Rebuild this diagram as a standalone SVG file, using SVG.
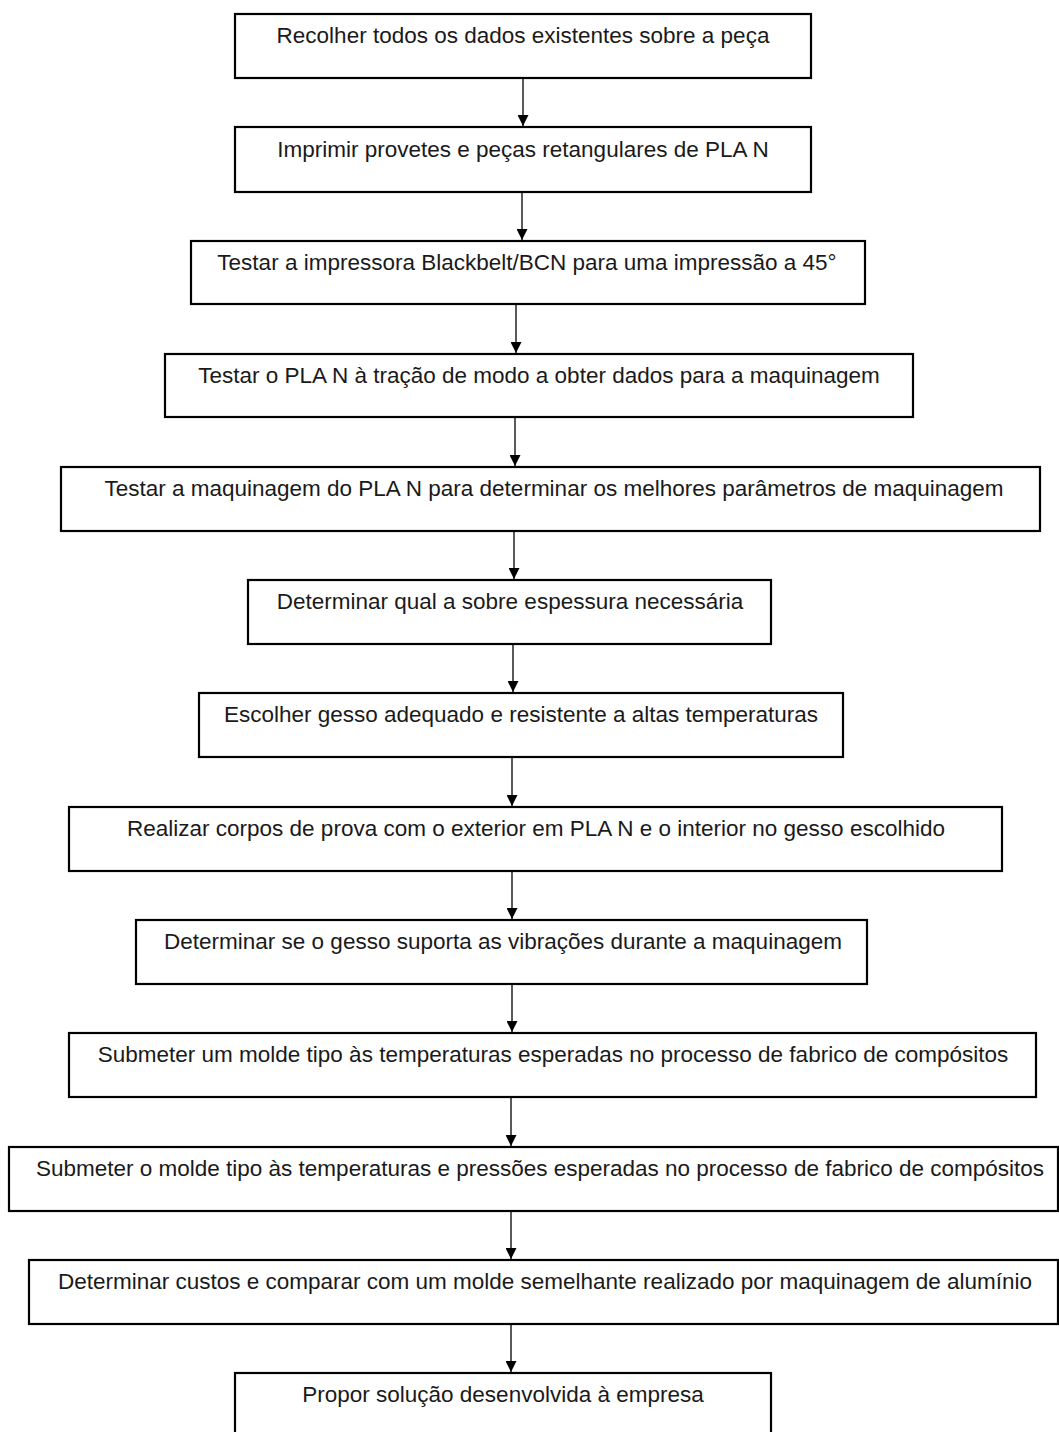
<svg xmlns="http://www.w3.org/2000/svg" width="1059" height="1432" viewBox="0 0 1059 1432">
<style>
.box{fill:#fff;stroke:#000;stroke-width:2.2}
.t{font-family:"Liberation Sans",Arial,sans-serif;font-size:22.5px;fill:#1a1a1a;text-anchor:middle}
.c{stroke:#000;stroke-width:1.3;fill:none;marker-end:url(#ah)}
</style>
<defs>
<marker id="ah" markerUnits="userSpaceOnUse" markerWidth="11" markerHeight="11" refX="11" refY="5.5" orient="auto" viewBox="0 0 11 11">
<path d="M0,0 L11,5.5 L0,11 Z" fill="#000"/>
</marker>
</defs>
<rect width="1059" height="1432" fill="#fff"/>
<g id="connectors">
<line class="c" x1="523" y1="78" x2="523" y2="126"/>
<line class="c" x1="522" y1="192" x2="522" y2="240"/>
<line class="c" x1="516" y1="304" x2="516" y2="353"/>
<line class="c" x1="515" y1="417" x2="515" y2="466"/>
<line class="c" x1="514" y1="531" x2="514" y2="579"/>
<line class="c" x1="513" y1="644" x2="513" y2="692"/>
<line class="c" x1="512" y1="757" x2="512" y2="806"/>
<line class="c" x1="512" y1="871" x2="512" y2="919"/>
<line class="c" x1="512" y1="984" x2="512" y2="1032"/>
<line class="c" x1="511" y1="1097" x2="511" y2="1146"/>
<line class="c" x1="511" y1="1211" x2="511" y2="1259"/>
<line class="c" x1="511" y1="1324" x2="511" y2="1372"/>
</g>
<g id="n1"><rect class="box" x="235" y="14" width="576" height="64"/><text class="t" x="523" y="43">Recolher todos os dados existentes sobre a peça</text></g>
<g id="n2"><rect class="box" x="235" y="127" width="576" height="65"/><text class="t" x="523" y="157">Imprimir provetes e peças retangulares de PLA N</text></g>
<g id="n3"><rect class="box" x="191" y="241" width="674" height="63"/><text class="t" x="527" y="270">Testar a impressora Blackbelt/BCN para uma impressão a 45°</text></g>
<g id="n4"><rect class="box" x="165" y="354" width="748" height="63"/><text class="t" x="539" y="383">Testar o PLA N à tração de modo a obter dados para a maquinagem</text></g>
<g id="n5"><rect class="box" x="61" y="467" width="979" height="64"/><text class="t" x="554" y="496">Testar a maquinagem do PLA N para determinar os melhores parâmetros de maquinagem</text></g>
<g id="n6"><rect class="box" x="248" y="580" width="523" height="64"/><text class="t" x="510" y="609">Determinar qual a sobre espessura necessária</text></g>
<g id="n7"><rect class="box" x="199" y="693" width="644" height="64"/><text class="t" x="521" y="722">Escolher gesso adequado e resistente a altas temperaturas</text></g>
<g id="n8"><rect class="box" x="69" y="807" width="933" height="64"/><text class="t" x="536" y="836">Realizar corpos de prova com o exterior em PLA N e o interior no gesso escolhido</text></g>
<g id="n9"><rect class="box" x="136" y="920" width="731" height="64"/><text class="t" x="503" y="949">Determinar se o gesso suporta as vibrações durante a maquinagem</text></g>
<g id="n10"><rect class="box" x="69" y="1033" width="967" height="64"/><text class="t" x="553" y="1062">Submeter um molde tipo às temperaturas esperadas no processo de fabrico de compósitos</text></g>
<g id="n11"><rect class="box" x="9" y="1147" width="1049" height="64"/><text class="t" x="540" y="1176">Submeter o molde tipo às temperaturas e pressões esperadas no processo de fabrico de compósitos</text></g>
<g id="n12"><rect class="box" x="29" y="1260" width="1029" height="64"/><text class="t" x="545" y="1289">Determinar custos e comparar com um molde semelhante realizado por maquinagem de alumínio</text></g>
<g id="n13"><rect class="box" x="235" y="1373" width="536" height="64"/><text class="t" x="503" y="1402">Propor solução desenvolvida à empresa</text></g>
</svg>
